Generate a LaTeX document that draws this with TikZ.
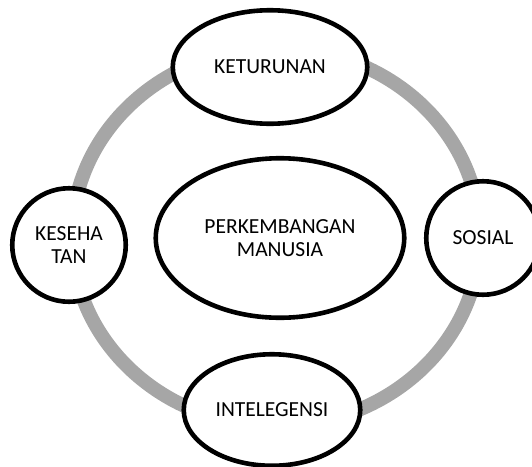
\documentclass[tikz,border=0pt]{standalone}
\usepackage{fontspec}
\setmainfont{Carlito}
\usetikzlibrary{shapes.geometric}
\definecolor{ringgray}{HTML}{A6A6A6}
\tikzset{
  factor/.style={ellipse, draw, line width=4.6pt, fill=white, inner sep=0pt,
    align=center, font=\fontsize{21.5}{23}\selectfont},
  factorround/.style={factor, circle, minimum size=113.5pt},
}

\begin{document}
\begin{tikzpicture}[x=1pt, y=-1pt]
      \useasboundingbox (0,0) rectangle (532,466);
      % grey ring behind the factors
      \coordinate (hub) at (276,237);
      \draw[ringgray, line width=14pt] (hub) ellipse [x radius=204pt, y radius=189pt];

      \node[factor, minimum width=248.5pt, minimum height=159.5pt] (manusia) at (280,238) {PERKEMBANGAN\\MANUSIA};
      \node[factor, minimum width=194.5pt, minimum height=113.5pt] (keturunan) at (270,67) {KETURUNAN};
      \node[factor, minimum width=176.5pt, minimum height=111.5pt] (intelegensi) at (272,410) {INTELEGENSI};
      \node[factorround] (kesehatan) at (69,245) {KESEHA\\TAN};
      \node[factorround] (sosial) at (483,238) {SOSIAL};
    \end{tikzpicture}
\end{document}
